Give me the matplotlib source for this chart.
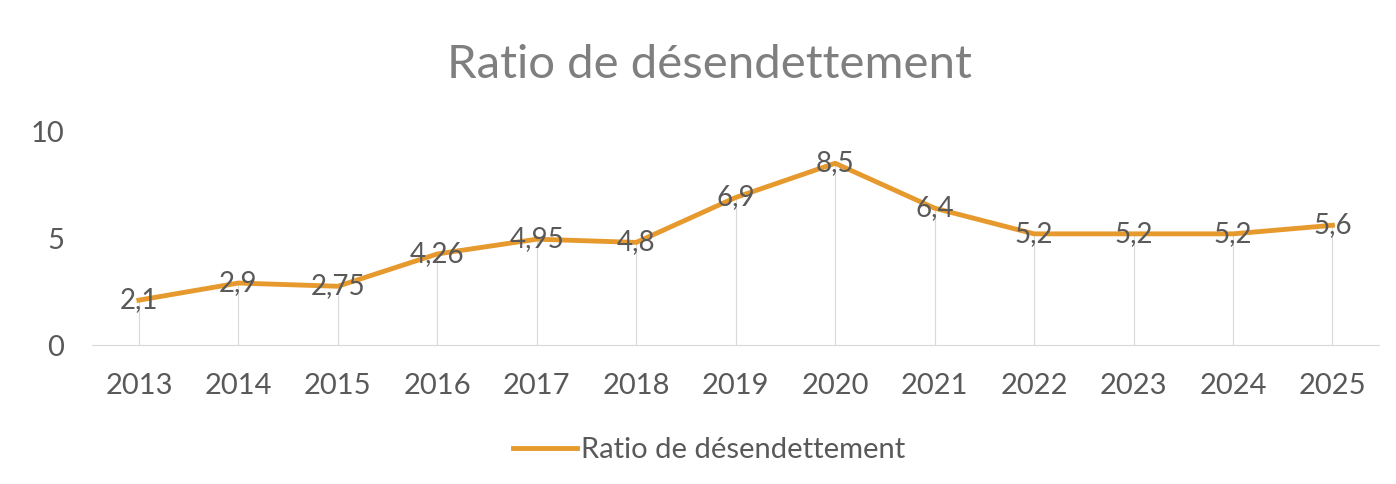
import matplotlib

matplotlib.use("Agg")

import matplotlib.pyplot as plt

years = ["2013", "2014", "2015", "2016", "2017", "2018", "2019",
         "2020", "2021", "2022", "2023", "2024", "2025"]
ratio = [2.1, 2.9, 2.75, 4.26, 4.95, 4.8, 6.9, 8.5, 6.4, 5.2, 5.2, 5.2, 5.6]
labels = ["2,1", "2,9", "2,75", "4,26", "4,95", "4,8", "6,9",
          "8,5", "6,4", "5,2", "5,2", "5,2", "5,6"]
yticks = [0, 5, 10]

plt.rcParams["font.family"] = ["Lato", "DejaVu Sans"]
LINE = "#E69A2E"
TEXT = "#595959"

fig = plt.figure(figsize=(13.96, 4.84), dpi=100)
ax = fig.add_axes([0.066, 0.287, 0.922, 0.442])

x = list(range(len(years)))
# drop lines from each point to the axis
ax.vlines(x, 0, ratio, color="#d9d9d9", linewidth=0.8, zorder=1)
ax.plot(x, ratio, color=LINE, linewidth=3.5, solid_joinstyle="round",
        label="Ratio de désendettement", zorder=2)
for xi, v, lab in zip(x, ratio, labels):
    ax.text(xi, v, lab, ha="center", va="center", fontsize=20, color=TEXT, zorder=3)

ax.set_xlim(-0.47, len(years) - 0.53)
ax.set_ylim(0, 10)
ax.set_xticks(x)
ax.set_xticklabels(years)
ax.set_yticks(yticks)
ax.tick_params(axis="both", length=0, labelsize=21, labelcolor=TEXT)
ax.tick_params(axis="x", pad=20)
ax.tick_params(axis="y", pad=20)
for side in ("top", "right", "left"):
    ax.spines[side].set_visible(False)
ax.spines["bottom"].set_color("#d9d9d9")

fig.text(0.508, 0.866, "Ratio de désendettement", ha="center", va="center",
         fontsize=34, color="#7f7f7f")
fig.legend(loc="center", bbox_to_anchor=(0.508, 0.07), frameon=False,
           fontsize=21, labelcolor=TEXT, handlelength=2.2, handletextpad=0.15)

fig.savefig("out.png", dpi=100)
